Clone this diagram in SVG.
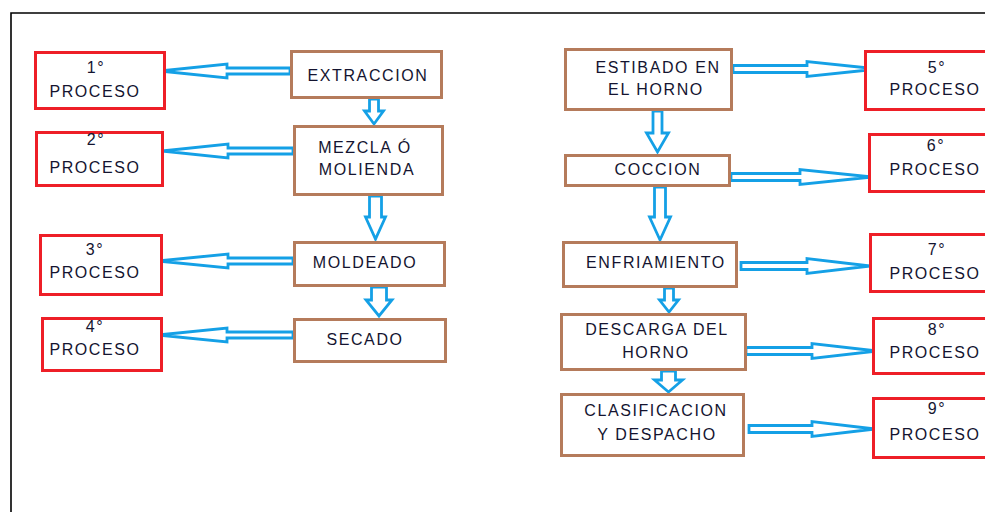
<svg xmlns="http://www.w3.org/2000/svg" width="985" height="512" viewBox="0 0 985 512">
<style>
.red{fill:#fff;stroke:#ee1f27;stroke-width:3}
.brn{fill:#fff;stroke:#b57b5b;stroke-width:3}
.arr{fill:#fff;stroke:#14a0e6;stroke-width:2.8;stroke-linejoin:miter}
text{font-family:"Liberation Sans",Arial,sans-serif;font-size:16px;letter-spacing:1.6px;fill:#141430;text-anchor:middle}
</style>
<rect width="985" height="512" fill="#fff"/>
<path d="M11,512 V13 H985" fill="none" stroke="#000" stroke-width="1.6"/>
<g id="connectors">
<polygon class="arr" points="290,68 227,68 227,64 160,71 227,78 227,74 290,74"/>
<polygon class="arr" points="293,148 228,148 228,144 162,151 228,158 228,154 293,154"/>
<polygon class="arr" points="293,258 228,258 228,254 158,261 228,268 228,264 293,264"/>
<polygon class="arr" points="293,332 227,332 227,328 158,335 227,342 227,338 293,338"/>
<polygon class="arr" points="733,65.5 807,65.5 807,61.5 878,69 807,76.5 807,72.5 733,72.5"/>
<polygon class="arr" points="731,173.5 800,173.5 800,169.5 872,177 800,184.5 800,180.5 731,180.5"/>
<polygon class="arr" points="741,262.5 807,262.5 807,258.5 870,266 807,273.5 807,269.5 741,269.5"/>
<polygon class="arr" points="746,347.5 812,347.5 812,343.5 877,351 812,358.5 812,354.5 746,354.5"/>
<polygon class="arr" points="749,425.5 812,425.5 812,421.5 875,429 812,436.5 812,432.5 749,432.5"/>
<polygon class="arr" points="369.5,99 378.5,99 378.5,111 383.5,111 374,124 364.5,111 369.5,111"/>
<polygon class="arr" points="369.5,196 381.5,196 381.5,217 385.5,217 375.5,239 365.5,217 369.5,217"/>
<polygon class="arr" points="371.5,287 386.5,287 386.5,300 392,300 379,316 366,300 371.5,300"/>
<polygon class="arr" points="653,111 662,111 662,133 668.5,133 657.5,152 646.5,133 653,133"/>
<polygon class="arr" points="654.5,187 665.5,187 665.5,217 670.5,217 660,240 649.5,217 654.5,217"/>
<polygon class="arr" points="664.5,288 673.5,288 673.5,300 678.5,300 669,312 659.5,300 664.5,300"/>
<polygon class="arr" points="661.5,371 675.5,371 675.5,380 682.5,380 668.5,392 654.5,380 661.5,380"/>
</g>
<g id="p1"><rect class="red" x="35.5" y="52.5" width="129" height="56"/><text x="96" y="73">1°</text><text x="95" y="97">PROCESO</text></g>
<g id="extraccion"><rect class="brn" x="291.5" y="51.5" width="150" height="46"/><text x="368" y="81">EXTRACCION</text></g>
<g id="p2"><rect class="red" x="36.5" y="132.5" width="126" height="53"/><text x="96" y="145">2°</text><text x="95" y="173">PROCESO</text></g>
<g id="mezcla"><rect class="brn" x="294.5" y="126.5" width="148" height="68"/><text x="365" y="153">MEZCLA Ó</text><text x="367" y="175">MOLIENDA</text></g>
<g id="p3"><rect class="red" x="40.5" y="235.5" width="121" height="59"/><text x="95" y="255">3°</text><text x="95" y="278">PROCESO</text></g>
<g id="moldeado"><rect class="brn" x="294.5" y="242.5" width="150" height="43"/><text x="365" y="268">MOLDEADO</text></g>
<g id="p4"><rect class="red" x="42.5" y="318.5" width="119" height="52"/><text x="95" y="332">4°</text><text x="95" y="355">PROCESO</text></g>
<g id="secado"><rect class="brn" x="294.5" y="319.5" width="151" height="42"/><text x="365" y="345">SECADO</text></g>
<g id="estibado"><rect class="brn" x="565.5" y="49.5" width="166" height="60"/><text x="658" y="73">ESTIBADO EN</text><text x="656" y="95">EL HORNO</text></g>
<g id="p5"><rect class="red" x="865.5" y="51.5" width="140" height="58"/><text x="937" y="73">5°</text><text x="935" y="95">PROCESO</text></g>
<g id="coccion"><rect class="brn" x="565.5" y="155.5" width="164" height="30"/><text x="658" y="175">COCCION</text></g>
<g id="p6"><rect class="red" x="869.5" y="134.5" width="140" height="57"/><text x="936" y="151">6°</text><text x="935" y="175">PROCESO</text></g>
<g id="enfriamiento"><rect class="brn" x="563.5" y="242.5" width="173" height="44"/><text x="656" y="268">ENFRIAMIENTO</text></g>
<g id="p7"><rect class="red" x="870.5" y="234.5" width="140" height="57"/><text x="937" y="255">7°</text><text x="935" y="279">PROCESO</text></g>
<g id="descarga"><rect class="brn" x="561.5" y="314.5" width="184" height="55"/><text x="657" y="335">DESCARGA DEL</text><text x="656" y="358">HORNO</text></g>
<g id="p8"><rect class="red" x="873.5" y="318.5" width="140" height="55"/><text x="937" y="335">8°</text><text x="935" y="358">PROCESO</text></g>
<g id="clasificacion"><rect class="brn" x="561.5" y="394.5" width="182" height="61"/><text x="656" y="416">CLASIFICACION</text><text x="657" y="440">Y DESPACHO</text></g>
<g id="p9"><rect class="red" x="873.5" y="398.5" width="140" height="59"/><text x="937" y="414">9°</text><text x="935" y="440">PROCESO</text></g>
</svg>
